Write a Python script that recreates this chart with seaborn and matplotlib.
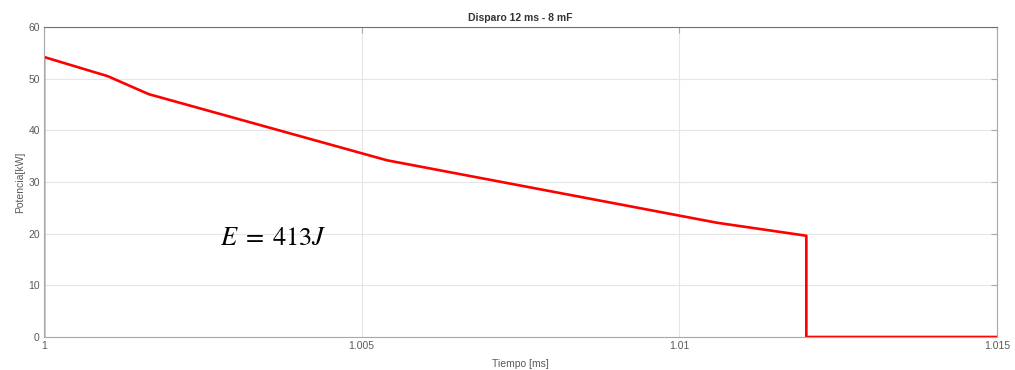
import matplotlib
matplotlib.use("Agg")
import matplotlib.pyplot as plt
import seaborn as sns
import pandas as pd

# Discharge pulse: time [ms] and power [kW]
tiempo = [1.0, 1.0, 1.0010, 1.00165, 1.0054, 1.0106, 1.012, 1.012, 1.015]
potencia = [0.0, 54.2, 50.5, 47.0, 34.2, 22.1, 19.6, 0.0, 0.0]

x_ticks = [1.0, 1.005, 1.01, 1.015]
x_tick_labels = ["1", "1.005", "1.01", "1.015"]
y_ticks = [0, 10, 20, 30, 40, 50, 60]

titulo = "Disparo 12 ms - 8 mF"
energia = r"$E\;=\;413J$"

sns.set_theme(style="whitegrid")
plt.rcParams["font.family"] = ["Liberation Sans", "DejaVu Sans"]
plt.rcParams["mathtext.fontset"] = "stix"

df = pd.DataFrame({"t": tiempo, "p": potencia})

fig = plt.figure(figsize=(10.15, 3.7), dpi=100)
ax = fig.add_axes([0.0433, 0.0892, 0.9389, 0.8378])

sns.lineplot(data=df, x="t", y="p", sort=False, estimator=None,
             color="#ff0000", linewidth=1.9, ax=ax)

ax.set_xlim(1.0, 1.015)
ax.set_ylim(0, 60)
ax.set_xticks(x_ticks)
ax.set_xticklabels(x_tick_labels)
ax.set_yticks(y_ticks)

ax.grid(True, color="#e6e6e6", linewidth=0.8)
ax.set_facecolor("white")
for s in ax.spines.values():
    s.set_color("#a8a8a8")
    s.set_linewidth(0.8)
ax.spines["top"].set_color("#707070")

ax.tick_params(axis="both", direction="in", length=4, width=0.8,
               color="#a8a8a8", labelsize=7.5, labelcolor="#5a5a5a",
               top=True, right=True, pad=3)

ax.set_xlabel("Tiempo [ms]", fontsize=7.5, color="#5a5a5a", labelpad=6)
ax.set_ylabel("Potencia[kW]", fontsize=7.5, color="#5a5a5a", labelpad=2)
ax.set_title(titulo, fontsize=7.5, fontweight="bold", color="#333333", pad=4)

ax.text(1.00277, 17.8, energia, fontsize=19, color="black",
        ha="left", va="baseline")

fig.savefig("out.png", dpi=100, facecolor="white")
